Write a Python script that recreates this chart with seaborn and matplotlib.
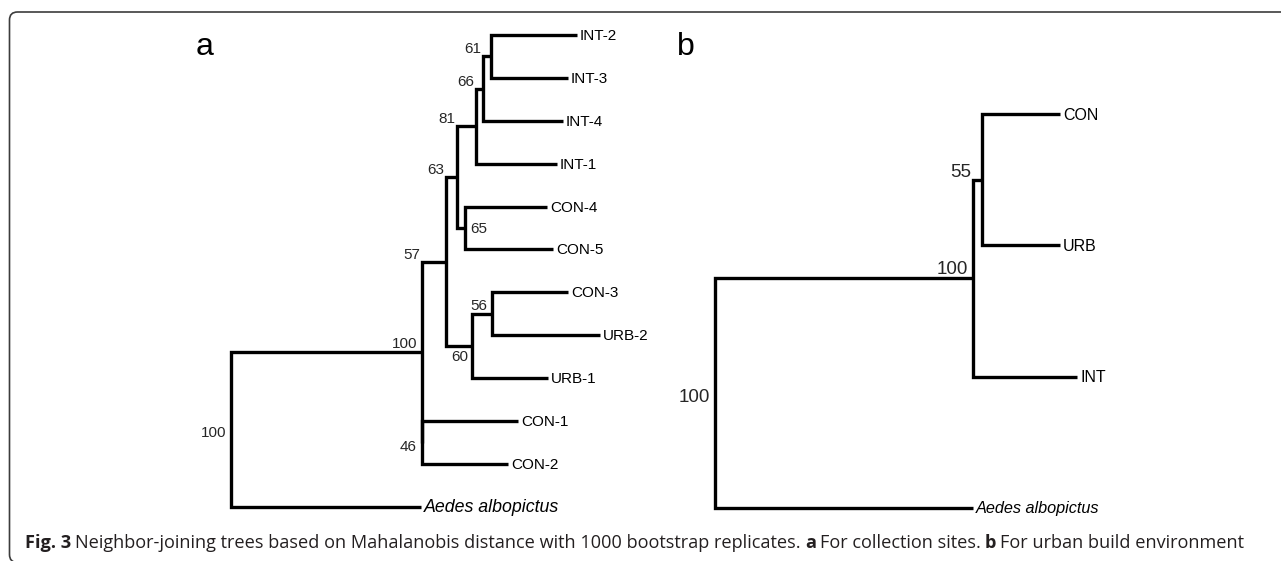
import numpy as np
import pandas as pd
import matplotlib
matplotlib.use("Agg")
import matplotlib.pyplot as plt
import seaborn as sns
from matplotlib.patches import FancyBboxPatch
from matplotlib.transforms import IdentityTransform

# ---------------- data: panel a (collection sites) ----------------
a_node = ["root", "in", "n57", "n63", "n81", "n66", "n61", "n65", "n60", "n56", "n46",
          "INT-2", "INT-3", "INT-4", "INT-1", "CON-4", "CON-5", "CON-3", "URB-2", "URB-1",
          "CON-1", "CON-2", "Aedes albopictus"]
a_parent = [None, "root", "in", "n57", "n63", "n81", "n66", "n63", "n57", "n60", "in",
            "n61", "n61", "n66", "n81", "n65", "n65", "n56", "n56", "n60",
            "n46", "n46", "root"]
a_length = [0.0, 0.191, 0.024, 0.011, 0.019, 0.007, 0.008, 0.008, 0.026, 0.020, 0.0,
            0.086, 0.077, 0.080, 0.081, 0.082, 0.088, 0.076, 0.108, 0.076,
            0.096, 0.086, 0.190]
a_support = ["100", "100", "57", "63", "81", "66", "61", "65", "60", "56", "46",
             "", "", "", "", "", "", "", "", "", "", "", ""]

# ---------------- data: panel b (urban build environment) ----------------
b_node = ["root", "in", "n55", "CON", "URB", "INT", "Aedes albopictus"]
b_parent = [None, "root", "in", "n55", "n55", "in", "root"]
b_length = [0.0, 0.258, 0.009, 0.078, 0.078, 0.104, 0.258]
b_support = ["100", "100", "55", "", "", "", ""]

# ---------------- styles ----------------
a_support_pos = {"root": "w", "in": "n", "n57": "nw", "n63": "nw", "n81": "nw",
                 "n66": "nw", "n61": "nw", "n65": "e", "n60": "s", "n56": "n", "n46": "w"}
b_support_pos = {"root": "w", "in": "n", "n55": "nw"}

W, H = 1281, 561
sns.set_theme(style="white")
plt.rcParams['font.family'] = ['Liberation Sans', 'DejaVu Sans']

fig = plt.figure(figsize=(W / 100, H / 100), dpi=100)
fig.patch.set_facecolor("white")


def layout(nodes, parents, lengths):
    idx = {n: i for i, n in enumerate(nodes)}
    children = {n: [] for n in nodes}
    for n, p in zip(nodes, parents):
        if p is not None:
            children[p].append(n)
    x = {}
    def setx(n, base):
        x[n] = base + lengths[idx[n]]
        for c in children[n]:
            setx(c, x[n])
    setx(nodes[0], 0.0)
    leaves = [n for n in nodes if not children[n]]
    y = {n: float(i) for i, n in enumerate(leaves)}
    def sety(n):
        if n in y:
            return y[n]
        ys = [sety(c) for c in children[n]]
        y[n] = (min(ys) + max(ys)) / 2
        return y[n]
    sety(nodes[0])
    return x, y, children


def draw_tree(ax, nodes, parents, lengths, support, pos, leaf_fs, sup_fs, italic_fs):
    x, y, children = layout(nodes, parents, lengths)
    rows = []
    for n in nodes:
        ch = sorted(children[n], key=lambda c: y[c])
        if not ch:
            continue
        top, bot = ch[0], ch[-1]
        pts = [(x[top], y[top]), (x[n], y[top]), (x[n], y[bot]), (x[bot], y[bot])]
        clean = [pts[0]]
        for pnt in pts[1:]:
            if abs(pnt[0] - clean[-1][0]) > 1e-9 or abs(pnt[1] - clean[-1][1]) > 1e-9:
                clean.append(pnt)
        for xx, yy in clean:
            rows.append({"x": xx, "y": yy, "seg": n})
        for mid in ch[1:-1]:
            rows.append({"x": x[n], "y": y[mid], "seg": n + "_" + mid})
            rows.append({"x": x[mid], "y": y[mid], "seg": n + "_" + mid})
    df = pd.DataFrame(rows)
    sns.lineplot(data=df, x="x", y="y", units="seg", estimator=None, sort=False,
                 color="black", lw=2.4, ax=ax, legend=False)
    for ln in ax.lines:
        ln.set_solid_joinstyle("miter")
        ln.set_solid_capstyle("butt")
    # leaf labels
    for n in nodes:
        if not children[n]:
            italic = n in italic_fs
            ax.annotate(n, xy=(x[n], y[n]), xytext=(3, -1), textcoords="offset pixels",
                        ha="left", va="center",
                        fontsize=italic_fs[n] if italic else leaf_fs, color="black",
                        fontstyle="italic" if italic else "normal")
    # support labels
    for n, p, s in zip(nodes, parents, support):
        if not s:
            continue
        mode = pos[n]
        if mode == "nw":
            ax.annotate(s, xy=(x[p], y[n]), xytext=(-2, 3), textcoords="offset pixels",
                        ha="right", va="baseline", fontsize=sup_fs)
        elif mode == "n":
            ax.annotate(s, xy=(x[n], y[n]), xytext=(-5, 4), textcoords="offset pixels",
                        ha="right", va="baseline", fontsize=sup_fs)
        elif mode == "s":
            ax.annotate(s, xy=(x[n], y[n]), xytext=(-4, -4), textcoords="offset pixels",
                        ha="right", va="top", fontsize=sup_fs)
        elif mode == "w":
            ax.annotate(s, xy=(x[n], y[n]), xytext=(-5, -4), textcoords="offset pixels",
                        ha="right", va="center", fontsize=sup_fs)
        elif mode == "e":
            ax.annotate(s, xy=(x[n], y[n]), xytext=(5, -1), textcoords="offset pixels",
                        ha="left", va="center", fontsize=sup_fs)


# panel a axes: root at 231 px, leaves from 35 px with 42.9 px spacing
ax_a = fig.add_axes([0, 0, 640 / W, 1])
ax_a.set_xlim(-0.231, 0.409)
ax_a.set_ylim((H - 35) / 42.9, -35 / 42.9)
draw_tree(ax_a, a_node, a_parent, a_length, a_support, a_support_pos, 11, 11,
          {"Aedes albopictus": 12.8})
ax_a.set_axis_off()
ax_a.patch.set_alpha(0)

# panel b axes: root at 715 px, leaves from 114 px with 131.3 px spacing
ax_b = fig.add_axes([640 / W, 0, 641 / W, 1])
ax_b.set_xlim(-0.075, 0.566)
ax_b.set_ylim((H - 114) / 131.3, -114 / 131.3)
draw_tree(ax_b, b_node, b_parent, b_length, b_support, b_support_pos, 11.5, 13.5,
          {"Aedes albopictus": 11.7})
ax_b.set_axis_off()
ax_b.patch.set_alpha(0)

# panel letters
fig.text(205, H - 55, "a", transform=IdentityTransform(), ha="center", va="baseline",
         fontsize=23, color="black")
fig.text(686, H - 55, "b", transform=IdentityTransform(), ha="center", va="baseline",
         fontsize=23, color="black")

# caption
cap_pieces = [("Fig. 3", "bold"),
              ("Neighbor-joining trees based on Mahalanobis distance with 1000 bootstrap replicates.", "normal"),
              ("a", "bold"),
              ("For collection sites.", "normal"),
              ("b", "bold"),
              ("For urban build environment", "normal")]
cap_fs = 12
cap_font = ['Open Sans', 'DejaVu Sans']
texts = []
prev = None
for s, wgt in cap_pieces:
    if prev is None:
        t = ax_a.annotate(s, xy=(25, H - 552), xycoords="figure pixels", ha="left",
                          va="bottom", fontsize=cap_fs, fontweight=wgt, family=cap_font,
                          color="#231f20", annotation_clip=False)
    else:
        t = ax_a.annotate(s, xy=(1, 0), xycoords=prev, xytext=(4, 0),
                          textcoords="offset pixels", ha="left", va="bottom",
                          fontsize=cap_fs, fontweight=wgt, family=cap_font,
                          color="#231f20", annotation_clip=False)
    texts.append(t)
    prev = t
fig.canvas.draw()
r = fig.canvas.get_renderer()
width = texts[-1].get_window_extent(r).x1 - texts[0].get_window_extent(r).x0
scale = (1238 - 25) / width
for t in texts:
    t.set_fontsize(cap_fs * scale)

# rounded frame (bottom and right edges fall just outside the canvas)
frame = FancyBboxPatch((9.5, -1.5), 1300, H - 12 + 1.5, boxstyle="round,pad=0,rounding_size=8",
                       transform=IdentityTransform(), fill=False, edgecolor="#3c3c3c",
                       linewidth=1.2)
fig.add_artist(frame)

fig.savefig("out.png", dpi=100, facecolor="white")
